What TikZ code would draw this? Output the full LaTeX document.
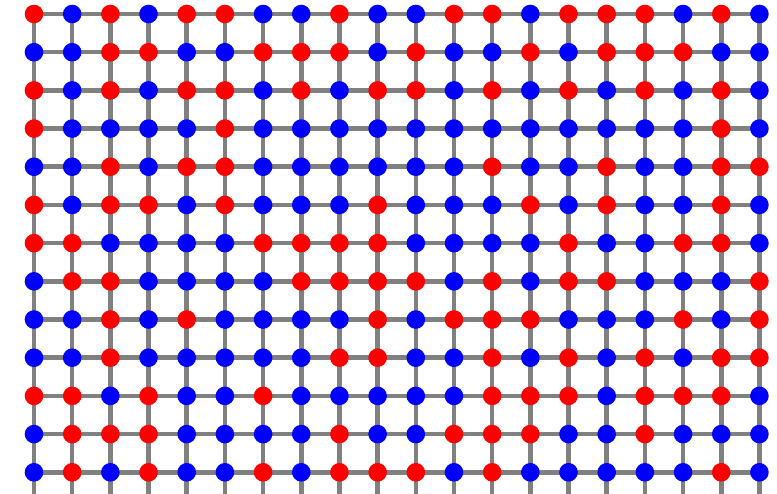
\documentclass[tikz,border=0pt]{standalone}
\usetikzlibrary{backgrounds}
\definecolor{cR}{RGB}{255,0,0}
\definecolor{cB}{RGB}{0,0,255}
\definecolor{edgegray}{RGB}{128,128,128}
\begin{document}
\begin{tikzpicture}[x=1pt,y=-1pt,
  dot/.style={circle,inner sep=0pt,minimum size=18.6pt,draw=none},
  edge/.style={draw=edgegray,line width=4.6pt}]
\useasboundingbox (0,0) rectangle (777,493);
\foreach \row [count=\j from 0] in {
 {R,B,R,B,R,R,B,B,R,B,B,R,R,B,R,R,R,B,R,B},
 {B,B,R,R,B,B,R,R,R,B,R,B,B,R,B,R,R,R,B,B},
 {R,B,R,B,R,R,B,R,B,R,R,B,R,B,R,B,R,B,R,B},
 {R,B,B,B,B,R,B,B,B,B,B,B,B,B,B,B,B,B,R,B},
 {B,B,R,B,R,R,B,B,B,B,B,B,R,B,B,R,B,B,R,R},
 {R,B,R,R,B,R,B,B,B,R,B,B,B,R,B,R,B,B,R,B},
 {R,R,B,B,B,B,R,R,R,R,B,B,B,B,R,B,B,R,R,B},
 {B,R,R,B,B,B,B,R,R,R,R,B,R,B,R,R,B,B,B,R},
 {B,B,R,B,R,B,B,B,B,R,B,R,R,R,B,B,B,R,B,R},
 {B,B,R,B,B,B,B,B,R,R,B,B,R,B,R,B,R,B,R,R},
 {R,R,B,R,B,B,R,B,B,B,B,B,R,R,R,B,R,R,R,B},
 {B,R,R,R,B,B,B,B,R,B,B,R,R,R,B,B,R,B,B,B},
 {B,R,B,R,B,B,R,B,R,R,R,B,R,B,B,B,B,B,R,B}}{
  \foreach \c [count=\i from 0] in \row {
    \node[dot,fill=c\c] (n-\i-\j) at ({34+38.18*\i},{14+38.19*\j}) {};
  }
}
\begin{scope}[on background layer]
  \foreach \j in {0,...,12}{
    \foreach \i [count=\k from 1] in {0,...,18}{
      \draw[edge] (n-\i-\j.center) -- (n-\k-\j.center);
    }
  }
  \foreach \i in {0,...,19}{
    \foreach \j [count=\k from 1] in {0,...,11}{
      \draw[edge] (n-\i-\j.center) -- (n-\i-\k.center);
    }
    \coordinate (b-\i) at ({34+38.18*\i},500);
    \draw[edge] (n-\i-12.center) -- (b-\i);
  }
\end{scope}
\end{tikzpicture}
\end{document}
